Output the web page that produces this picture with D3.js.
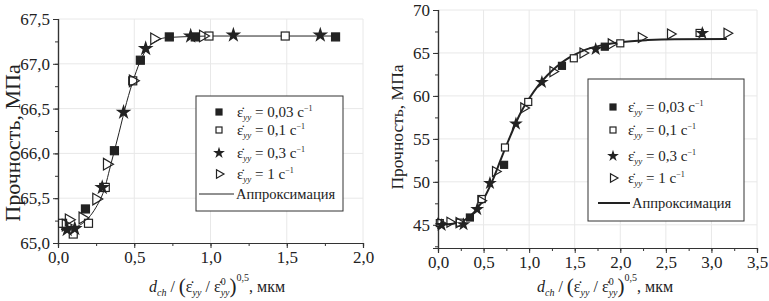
<!DOCTYPE html>
<html lang="ru">
<head>
<meta charset="UTF-8">
<title>Прочность</title>
<script src="https://d3js.org/d3.v7.min.js"></script>
<style>
  body { margin: 0; background: #fff; }
  text { font-family: "Liberation Serif", "DejaVu Serif", "Times New Roman", serif; fill: #222; }
</style>
</head>
<body>
<script>
// ---- data ----
// left panel
const leftRate003 = [[0.18,65.38],[0.30,65.62],[0.37,66.03],[0.54,67.04],[0.73,67.30],[0.90,67.30],[1.82,67.30]];
const leftRate01  = [[0.03,65.22],[0.10,65.10],[0.20,65.22],[0.31,65.62],[0.49,66.81],[0.99,67.31],[1.49,67.31]];
const leftRate03  = [[0.06,65.15],[0.11,65.16],[0.29,65.62],[0.43,66.46],[0.575,67.17],[0.87,67.31],[1.15,67.32],[1.72,67.32]];
const leftRate1   = [[0.05,65.20],[0.07,65.26],[0.16,65.28],[0.25,65.49],[0.32,65.88],[0.49,66.81],[0.63,67.28],[0.95,67.31]];
const leftFit     = [[0.02,65.15],[0.10,65.17],[0.20,65.28],[0.25,65.40],[0.30,65.58],[0.35,65.90],[0.40,66.23],[0.45,66.57],
                     [0.50,66.85],[0.55,67.07],[0.60,67.20],[0.65,67.26],[0.70,67.29],[0.80,67.30],[1.00,67.31],[1.82,67.31]];
// right panel
const rightRate003 = [[0.35,45.85],[0.725,51.98],[1.36,63.50],[1.83,65.73]];
const rightRate01  = [[0.02,45.20],[0.24,45.25],[0.48,48.00],[0.735,54.00],[0.99,59.30],[1.49,64.38],[2.00,66.12],[2.87,67.33]];
const rightRate03  = [[0.04,44.95],[0.28,45.05],[0.43,46.80],[0.57,49.85],[0.855,56.75],[1.14,61.60],[1.73,65.43],[2.90,67.30]];
const rightRate1   = [[0.03,45.15],[0.13,45.30],[0.23,45.25],[0.47,47.80],[0.63,51.20],[0.94,58.60],[1.26,62.83],[1.59,65.00],
                      [1.90,66.05],[2.23,66.80],[2.55,67.20],[3.17,67.29]];
const rightFit     = [[0.00,45.00],[0.10,45.05],[0.20,45.20],[0.30,45.60],[0.40,46.50],[0.50,48.00],[0.60,50.20],[0.70,52.90],
                      [0.80,55.50],[0.90,57.90],[1.00,59.70],[1.10,61.20],[1.20,62.40],[1.30,63.40],[1.40,64.20],[1.50,64.80],
                      [1.60,65.30],[1.80,65.90],[2.00,66.25],[2.30,66.50],[2.60,66.60],[3.17,66.62]];

const legendRates = ["0,03", "0,1", "0,3", "1"];
const leftXTicks  = [0, 0.5, 1.0, 1.5, 2.0];
const leftYTicks  = [65.0, 65.5, 66.0, 66.5, 67.0, 67.5];
const rightXTicks = [0, 0.5, 1.0, 1.5, 2.0, 2.5, 3.0, 3.5];
const rightYTicks = [45, 50, 55, 60, 65, 70];

const ru = d3.formatLocale({decimal: ",", thousands: " ", grouping: [3], currency: ["", ""]});
const f1 = ru.format(".1f");

const svg = d3.select("body").append("svg")
  .attr("width", 769).attr("height", 301);

function marker(g, kind, x, y, s) {
  if (kind === "fsq" || kind === "osq") {
    g.append("rect")
      .attr("x", x - s / 2).attr("y", y - s / 2).attr("width", s).attr("height", s)
      .attr("fill", kind === "fsq" ? "#222" : "#fff")
      .attr("stroke", "#222").attr("stroke-width", 1.2);
  } else if (kind === "star") {
    g.append("path")
      .attr("d", d3.symbol(d3.symbolStar, s * s * 1.2)())
      .attr("transform", `translate(${x},${y})`)
      .attr("fill", "#222");
  } else {
    g.append("path")
      .attr("d", d3.symbol(d3.symbolTriangle, s * s * 0.9)())
      .attr("transform", `translate(${x},${y}) rotate(90)`)
      .attr("fill", "none").attr("stroke", "#222").attr("stroke-width", 1.2);
  }
}

// rich text helper: segments with baseline shift (absolute) and size
function richText(g, x, y, segs, anchor) {
  const t = g.append("text").attr("x", x).attr("y", y).attr("text-anchor", anchor || "start");
  let cur = 0;
  segs.forEach(s => {
    const sh = s.shift || 0;
    const sp = t.append("tspan").text(s.t)
      .attr("font-size", s.size || 16)
      .attr("dy", sh - cur);
    if (s.dx) sp.attr("dx", s.dx);
    if (s.it) sp.attr("font-style", "italic");
    cur = sh;
  });
  return t;
}

function xTitle(g, x, y) {
  richText(g, x, y, [
    {t: "d", it: true},
    {t: "ch", it: true, size: 10, shift: 4},
    {t: " / ", shift: 0},
    {t: "(", size: 21, shift: 1},
    {t: "ε̇", shift: 0},
    {t: "yy", it: true, size: 10, shift: 4},
    {t: " / ", shift: 0},
    {t: "ε̇"},
    {t: "0", size: 10, shift: -7},
    {t: "yy", it: true, size: 10, shift: 4, dx: -5},
    {t: ")", size: 21, shift: 1},
    {t: "0,5", size: 10, shift: -11},
    {t: ", мкм", shift: 0}
  ], "middle");
}

function panel(cfg) {
  const x = d3.scaleLinear().domain(cfg.xDomain).range(cfg.xRange);
  const y = d3.scaleLinear().domain(cfg.yDomain).range(cfg.yRange);
  const g = svg.append("g");

  // grid
  g.selectAll(".gx").data(cfg.xTicks.slice(1)).enter().append("line")
    .attr("x1", d => x(d)).attr("x2", d => x(d))
    .attr("y1", cfg.yRange[0]).attr("y2", cfg.yRange[1])
    .attr("stroke", "#e8e8e8").attr("stroke-width", 1);
  g.selectAll(".gy").data(cfg.yTicks.filter(d => d > cfg.yDomain[0])).enter().append("line")
    .attr("y1", d => y(d)).attr("y2", d => y(d))
    .attr("x1", cfg.xRange[0]).attr("x2", cfg.xRange[1])
    .attr("stroke", "#e8e8e8").attr("stroke-width", 1);

  // axes: minor then major
  const xMinor = d3.range(cfg.xDomain[0], cfg.xDomain[1] + 1e-9, cfg.xMinorStep);
  const yMinor = d3.range(Math.ceil(cfg.yDomain[0] / cfg.yMinorStep) * cfg.yMinorStep, cfg.yDomain[1] + 1e-9, cfg.yMinorStep);
  g.append("g").attr("transform", `translate(0,${cfg.yRange[0]})`)
    .call(d3.axisBottom(x).tickValues(xMinor).tickSize(3).tickFormat(""));
  g.append("g").attr("transform", `translate(0,${cfg.yRange[0]})`)
    .call(d3.axisBottom(x).tickValues(cfg.xTicks).tickSize(5).tickPadding(3).tickFormat(f1));
  g.append("g").attr("transform", `translate(${cfg.xRange[0]},0)`)
    .call(d3.axisLeft(y).tickValues(yMinor).tickSize(3).tickFormat(""));
  g.append("g").attr("transform", `translate(${cfg.xRange[0]},0)`)
    .call(d3.axisLeft(y).tickValues(cfg.yTicks).tickSize(5).tickPadding(3).tickFormat(cfg.yFormat));
  g.selectAll(".domain").attr("stroke", "#333").attr("stroke-width", 1.2);
  g.selectAll(".tick line").attr("stroke", "#333");
  g.selectAll(".tick text").attr("font-family", "Liberation Serif").attr("font-size", 17).attr("fill", "#333");

  // fit line
  g.append("path").datum(cfg.fit)
    .attr("d", d3.line().x(d => x(d[0])).y(d => y(d[1])).curve(d3.curveMonotoneX))
    .attr("fill", "none").attr("stroke", "#222").attr("stroke-width", cfg.lineW);

  // markers
  const series = [[cfg.s003, "fsq"], [cfg.s01, "osq"], [cfg.s03, "star"], [cfg.s1, "tri"]];
  series.forEach(([data, kind]) => {
    data.forEach(d => marker(g, kind, x(d[0]), y(d[1]), cfg.ms));
  });

  // legend
  const L = cfg.legend;
  g.append("rect").attr("x", L.x).attr("y", L.y).attr("width", L.w).attr("height", L.h)
    .attr("fill", "#fff").attr("stroke", "#333").attr("stroke-width", 1);
  const kinds = ["fsq", "osq", "star", "tri"];
  legendRates.forEach((r, i) => {
    const ry = L.rows[i];
    marker(g, kinds[i], L.sx, ry - 5, 6);
    richText(g, L.tx, ry, [
      {t: "ε̇", size: 15},
      {t: "yy", it: true, size: 9, shift: 3},
      {t: " = " + r + " c", size: 15, shift: 0},
      {t: "−1", size: 8, shift: -6}
    ]);
  });
  g.append("line").attr("x1", L.lx1).attr("x2", L.lx2)
    .attr("y1", L.rows[4] - 5).attr("y2", L.rows[4] - 5)
    .attr("stroke", "#222").attr("stroke-width", cfg.lineW);
  g.append("text").attr("x", L.lx2 + 2).attr("y", L.rows[4]).attr("font-size", 14.5).text("Аппроксимация");

  // titles
  xTitle(g, cfg.xTitleX, 292);
  g.append("text")
    .attr("transform", `translate(${cfg.yTitleX},${cfg.yTitleY}) rotate(-90)`)
    .attr("text-anchor", "middle").attr("font-size", cfg.yTitleSize).text("Прочность, МПа");
}

panel({
  xDomain: [0, 2], xRange: [58, 363], yDomain: [65, 67.5], yRange: [243, 19],
  xTicks: leftXTicks, yTicks: leftYTicks, xMinorStep: 0.25, yMinorStep: 0.25,
  yFormat: f1, s003: leftRate003, s01: leftRate01, s03: leftRate03, s1: leftRate1,
  fit: leftFit, lineW: 1, ms: 8,
  legend: {x: 196, y: 96, w: 147, h: 115, rows: [117, 135, 158, 179, 199], sx: 219, tx: 237, lx1: 199, lx2: 234},
  xTitleX: 217, yTitleX: 20, yTitleY: 143, yTitleSize: 22
});

panel({
  xDomain: [0, 3.5], xRange: [438, 757], yDomain: [42.3, 70], yRange: [248, 10],
  xTicks: rightXTicks, yTicks: rightYTicks, xMinorStep: 0.25, yMinorStep: 2.5,
  yFormat: d3.format("d"), s003: rightRate003, s01: rightRate01, s03: rightRate03, s1: rightRate1,
  fit: rightFit, lineW: 2, ms: 7,
  legend: {x: 588, y: 79, w: 156, h: 142, rows: [112, 135, 161, 183, 208], sx: 613, tx: 628, lx1: 598, lx2: 630},
  xTitleX: 605, yTitleX: 403, yTitleY: 127, yTitleSize: 17.5
});
</script>
</body>
</html>
